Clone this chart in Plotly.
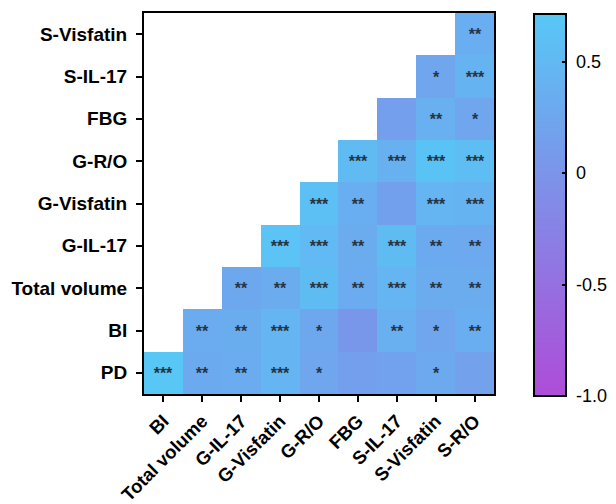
import numpy as np
import plotly.graph_objects as go

x_labels = ["BI", "Total volume", "G-IL-17", "G-Visfatin", "G-R/O", "FBG", "S-IL-17", "S-Visfatin", "S-R/O"]
y_labels = ["PD", "BI", "Total volume", "G-IL-17", "G-Visfatin", "G-R/O", "FBG", "S-IL-17", "S-Visfatin"]

N = None
# rows listed bottom (PD) to top (S-Visfatin); columns follow x_labels
r_PD          = [0.70, 0.30, 0.33, 0.45, 0.24, 0.14, 0.19, 0.28, 0.17]
r_BI          = [N,    0.33, 0.34, 0.45, 0.27, 0.04, 0.38, 0.25, 0.36]
r_TotalVolume = [N,    N,    0.27, 0.32, 0.55, 0.33, 0.45, 0.32, 0.32]
r_GIL17       = [N,    N,    N,    0.64, 0.52, 0.32, 0.55, 0.30, 0.28]
r_GVisfatin   = [N,    N,    N,    N,    0.60, 0.35, 0.16, 0.45, 0.42]
r_GRO         = [N,    N,    N,    N,    N,    0.53, 0.40, 0.65, 0.58]
r_FBG         = [N,    N,    N,    N,    N,    N,    0.14, 0.38, 0.25]
r_SIL17       = [N,    N,    N,    N,    N,    N,    N,    0.25, 0.42]
r_SVisfatin   = [N,    N,    N,    N,    N,    N,    N,    N,    0.35]

s_PD          = ["***", "**", "**", "***", "*", "", "", "*", ""]
s_BI          = ["", "**", "**", "***", "*", "", "**", "*", "**"]
s_TotalVolume = ["", "", "**", "**", "***", "**", "***", "**", "**"]
s_GIL17       = ["", "", "", "***", "***", "**", "***", "**", "**"]
s_GVisfatin   = ["", "", "", "", "***", "**", "", "***", "***"]
s_GRO         = ["", "", "", "", "", "***", "***", "***", "***"]
s_FBG         = ["", "", "", "", "", "", "", "**", "*"]
s_SIL17       = ["", "", "", "", "", "", "", "*", "***"]
s_SVisfatin   = ["", "", "", "", "", "", "", "", "**"]

z = [r_PD, r_BI, r_TotalVolume, r_GIL17, r_GVisfatin, r_GRO, r_FBG, r_SIL17, r_SVisfatin]
z = np.array([[np.nan if v is None else v for v in row] for row in z], dtype=float)
stars = [s_PD, s_BI, s_TotalVolume, s_GIL17, s_GVisfatin, s_GRO, s_FBG, s_SIL17, s_SVisfatin]

cb_vals = [0.5, 0, -0.5, -1.0]
cb_text = ["\u00a00.5", "\u00a00", "\u00a0-0.5", "\u00a0-1.0"]

FONT = "Liberation Sans, Arial, Helvetica, sans-serif"

fig = go.Figure(go.Heatmap(
    x=x_labels, y=y_labels, z=z,
    text=stars, texttemplate="%{text}",
    textfont=dict(family=FONT, size=16, color="#263443", weight="bold"),
    zmin=-1.0, zmax=0.713,
    colorscale=[[0, "#ae4cd8"], [1, "#57c8f6"]],
    xgap=0, ygap=0,
    hoverongaps=False,
    colorbar=dict(
        x=1.114, xanchor="left",
        y=0.496, yanchor="middle",
        xpad=0, ypad=0,
        thickness=32, thicknessmode="pixels",
        len=382, lenmode="pixels",
        outlinecolor="black", outlinewidth=2,
        tickvals=cb_vals, ticktext=cb_text,
        ticks="inside", ticklen=5, tickwidth=2, tickcolor="black",
        tickfont=dict(family=FONT, size=18, color="black"),
    ),
))

# the page body adds an 8px offset, so the figure is sized 608x496
fig.update_layout(
    width=608, height=496,
    margin=dict(l=136, r=122, t=5, b=110, autoexpand=False),
    paper_bgcolor="white", plot_bgcolor="white",
    font=dict(family=FONT, color="black"),
    showlegend=False,
)
fig.update_xaxes(
    type="category", showgrid=False, zeroline=False,
    showline=True, linecolor="black", linewidth=2, mirror=True,
    ticks="outside", ticklen=6, tickwidth=2, tickcolor="black",
    tickangle=-45, ticklabelstandoff=1,
    tickfont=dict(family=FONT, size=18.5, color="black", weight="bold"),
)
fig.update_yaxes(
    type="category", showgrid=False, zeroline=False,
    showline=True, linecolor="black", linewidth=2, mirror=True,
    ticks="outside", ticklen=6, tickwidth=2, tickcolor="black",
    ticklabelstandoff=5,
    tickfont=dict(family=FONT, size=19, color="black", weight="bold"),
)

fig.write_html("out.html")
